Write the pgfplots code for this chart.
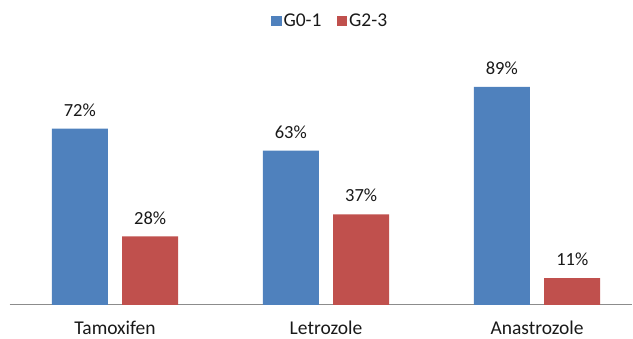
\documentclass[border=0pt]{standalone}
\usepackage{pgfplots}
\pgfplotsset{compat=1.18}
\usepackage{fontspec}
\setmainfont{Carlito}
\definecolor{bblue}{HTML}{4F81BD}
\definecolor{bred}{HTML}{C0504D}
\definecolor{axgray}{HTML}{8C8C8C}
\begin{document}
\begin{tikzpicture}[x=1pt,y=1pt]
\useasboundingbox (-9.5pt,-34pt) rectangle (623.5pt,305pt);
\begin{axis}[
  scale only axis,
  width=622.5pt, height=245pt,
  at={(0,0)}, anchor=south west,
  xmin=-0.5, xmax=2.45,
  ymin=0, ymax=100,
  axis x line=bottom,
  axis line style={axgray, line width=1pt, -},
  hide y axis,
  xtick={0,1,2},
  xticklabels={Tamoxifen,Letrozole,Anastrozole},
  major tick length=0pt,
  xticklabel style={font=\fontsize{19.5}{21}\selectfont, inner sep=0pt, anchor=base, yshift=-30pt, text=black!90},
  /pgf/number format/assume math mode=true,
  ybar, bar width=56pt,
  nodes near coords={\pgfmathprintnumber{\pgfplotspointmeta}\%},
  every node near coord/.append style={font=\fontsize{18.5}{20}\selectfont, inner sep=0pt, anchor=south, yshift=12pt, text=black!90},
  legend columns=2,
  legend style={at={(0.515,1.159)}, anchor=center, draw=none, fill=none,
    font=\fontsize{19.5}{21}\selectfont, text=black!90, inner sep=0pt,
    /tikz/every even column/.append style={column sep=13pt}},
  legend image code/.code={\fill[#1] (0pt,-5.3pt) rectangle (10.6pt,5.3pt);},
  clip=false,
]
\addplot[fill=bblue, draw=none, bar shift=-35.2pt] coordinates {(0,72) (1,63) (2,89)};
\addplot[fill=bred, draw=none, bar shift=35.2pt] coordinates {(0,28) (1,37) (2,11)};
\legend{G0-1,G2-3}
\end{axis}
\end{tikzpicture}
\end{document}
